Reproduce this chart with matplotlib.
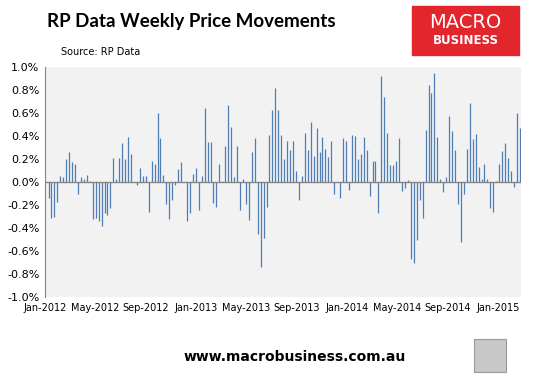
import numpy as np
import matplotlib
matplotlib.use('Agg')
import matplotlib.pyplot as plt
from matplotlib.patches import Rectangle

# weekly % change (Jan-2012 .. Feb-2015)
vals = [
    -0.14, -0.31, -0.30, -0.17, 0.05, 0.04, 0.20, 0.26, 0.17, 0.16, -0.10, 0.04, 0.03,
    0.06, 0.01, -0.32, -0.31, -0.34, -0.38, -0.27, -0.29, -0.23, 0.21, 0.03, 0.21, 0.34,
    0.20, 0.39, 0.24, 0.0, -0.03, 0.12, 0.05, 0.05, -0.26, 0.18, 0.16, 0.60, 0.38, 0.06,
    -0.19, -0.32, -0.16, -0.03, 0.11, 0.17, 0.0, -0.34, -0.27, 0.07, 0.12, -0.24, 0.05,
    0.64, 0.35, 0.35, -0.18, -0.22, 0.16, 0.01, 0.31, 0.67, 0.48, 0.04, 0.31, -0.24, 0.03,
    -0.19, -0.33, 0.26, 0.38, -0.45, -0.74, -0.49, -0.22, 0.41, 0.63, 0.82, 0.63, 0.41,
    0.20, 0.36, 0.28, 0.36, 0.10, -0.16, 0.05, 0.43, 0.28, 0.52, 0.23, 0.47, 0.26, 0.39,
    0.29, 0.22, 0.36, -0.10, 0.0, -0.14, 0.38, 0.36, -0.07, 0.41, 0.40, 0.20, 0.24,
    0.39, 0.28, -0.12, 0.18, 0.18, -0.27, 0.92, 0.74, 0.43, 0.15, 0.15, 0.18, 0.38, -0.08,
    -0.05, 0.02, -0.67, -0.70, -0.50, -0.16, -0.31, 0.45, 0.84, 0.77, 0.95, 0.39, 0.03,
    -0.09, 0.04, 0.57, 0.44, 0.28, -0.19, -0.52, -0.10, 0.29, 0.69, 0.37, 0.42, 0.13, 0.03,
    0.16, 0.03, -0.23, -0.26, 0.01, 0.16, 0.27, 0.34, 0.21, 0.10, -0.04, 0.60, 0.47,
]
xlabels = ['Jan-2012', 'May-2012', 'Sep-2012', 'Jan-2013', 'May-2013',
           'Sep-2013', 'Jan-2014', 'May-2014', 'Sep-2014', 'Jan-2015']
yticks = [1.0, 0.8, 0.6, 0.4, 0.2, 0.0, -0.2, -0.4, -0.6, -0.8, -1.0]

plt.rcParams['font.family'] = ['DejaVu Sans']

fig = plt.figure(figsize=(5.36, 3.77), dpi=100)
ax = fig.add_axes([45/536, 1 - 297/377, 476/536, 230/377])
ax.set_facecolor('#f2f2f2')

x = np.arange(len(vals))
ax.vlines(x, 0, vals, color='#4f7cb3', lw=0.9)
ax.axhline(0, color='#868686', lw=1)

ax.set_ylim(-1.0, 1.0)
ax.set_xlim(-0.4, len(vals) - 0.6)
ax.set_yticks(yticks)
ax.set_yticklabels(['%.1f%%' % v for v in yticks], fontsize=8)
ax.set_xticks(np.linspace(-1.2, 152.5, len(xlabels)))
ax.set_xticklabels(xlabels, fontsize=7)
ax.tick_params(length=0, pad=4)
for s in ['top', 'right', 'bottom']:
    ax.spines[s].set_visible(False)
ax.spines['left'].set_color('#868686')

fig.text(47/536, 1 - 22/377, 'RP Data Weekly Price Movements', fontsize=13.5,
         fontweight='bold', family='Lato', va='center')
fig.text(61/536, 1 - 52/377, 'Source: RP Data', fontsize=7, va='center')

# logo box
fig.patches.append(Rectangle((412/536, 1 - 55/377), 107/536, 49/377,
                             transform=fig.transFigure, color='#e3262b'))
fig.text(465/536, 1 - 22/377, 'MACRO', color='white', fontsize=14,
         ha='center', va='center')
fig.text(466/536, 1 - 41/377, 'BUSINESS', color='white', fontsize=8.5,
         ha='center', va='center', fontweight='bold')

fig.text(295/536, 1 - 357/377, 'www.macrobusiness.com.au', fontsize=10,
         fontweight='bold', ha='center', va='center')
fig.patches.append(Rectangle((474/536, 1 - 372/377), 32/536, 33/377,
                             transform=fig.transFigure, facecolor='#c8c8c8',
                             edgecolor='#999999', lw=0.8))

fig.savefig('out.png', dpi=100)
